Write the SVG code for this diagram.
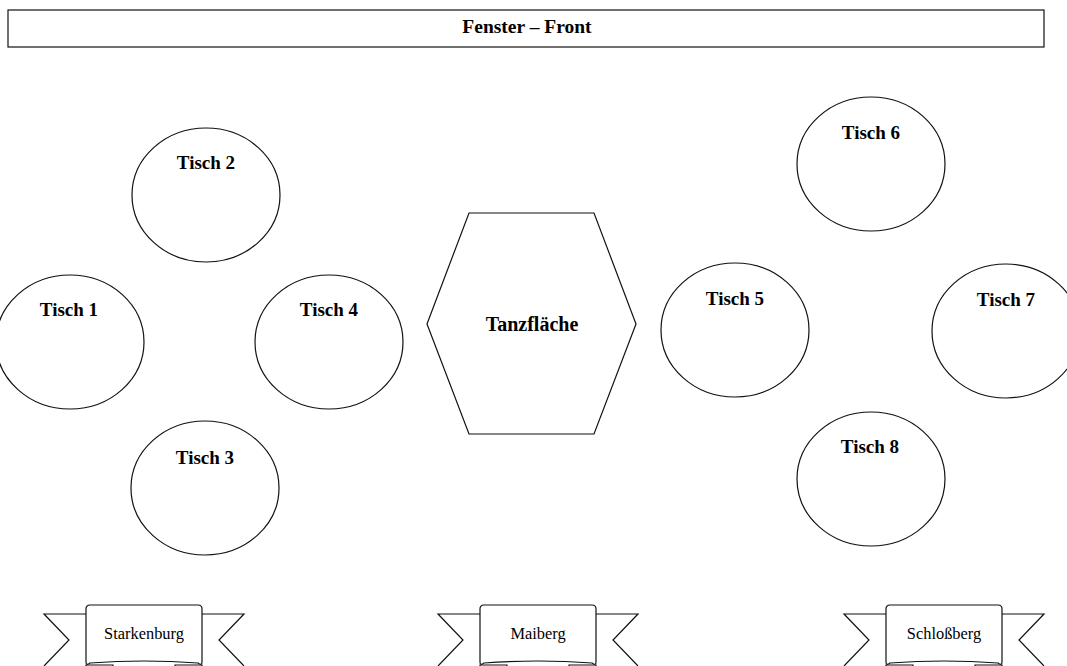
<svg xmlns="http://www.w3.org/2000/svg" width="1067" height="666" viewBox="0 0 1067 666">
<style>
.s{fill:#fff;stroke:#111;stroke-width:1.2}
.b{font-family:"Liberation Serif",serif;font-weight:bold;font-size:19px;fill:#000;text-anchor:middle}
.r{font-family:"Liberation Serif",serif;font-size:16.4px;fill:#000;text-anchor:middle}
</style>
<defs>
<g id="banner">
<path class="s" d="M0,9 H-42 L-17,35 L-42,61 M116,9 H158 L133,35 L158,61" fill="none"/>
<path class="s" d="M0,60 H27 V66 H0 Z M89,60 H116 V66 H89 Z"/>
<path class="s" d="M0,4 Q0,0 4,0 H112 Q116,0 116,4 V57 Q116,61 112,58 Q58,54 4,58 Q0,61 0,57 Z"/>
</g>
</defs>
<rect width="1067" height="666" fill="#fff"/>
<g id="title">
<rect class="s" x="8" y="10" width="1036" height="37"/>
<text class="b" x="527" y="33" style="font-size:19.5px">Fenster – Front</text>
</g>
<g id="tisch1"><ellipse class="s" cx="70" cy="342" rx="74" ry="67"/><text class="b" x="69" y="316">Tisch 1</text></g>
<g id="tisch2"><ellipse class="s" cx="206" cy="195" rx="74" ry="67"/><text class="b" x="206" y="169">Tisch 2</text></g>
<g id="tisch3"><ellipse class="s" cx="205" cy="488" rx="74" ry="67"/><text class="b" x="205" y="464">Tisch 3</text></g>
<g id="tisch4"><ellipse class="s" cx="329" cy="342" rx="74" ry="67"/><text class="b" x="329" y="316">Tisch 4</text></g>
<g id="tanzflaeche"><polygon class="s" points="469,213 594,213 636,324 594,434 469,434 427,324"/><text class="b" x="532" y="331" style="font-size:20px">Tanzfläche</text></g>
<g id="tisch5"><ellipse class="s" cx="735" cy="330" rx="74" ry="67"/><text class="b" x="735" y="305">Tisch 5</text></g>
<g id="tisch6"><ellipse class="s" cx="871" cy="164" rx="74" ry="67"/><text class="b" x="871" y="139">Tisch 6</text></g>
<g id="tisch7"><ellipse class="s" cx="1006" cy="331" rx="74" ry="67"/><text class="b" x="1006" y="306">Tisch 7</text></g>
<g id="tisch8"><ellipse class="s" cx="871" cy="479" rx="74" ry="67"/><text class="b" x="870" y="453">Tisch 8</text></g>
<g id="starkenburg"><use href="#banner" x="86" y="605"/><text class="r" x="144" y="639">Starkenburg</text></g>
<g id="maiberg"><use href="#banner" x="480" y="605"/><text class="r" x="538" y="639">Maiberg</text></g>
<g id="schlossberg"><use href="#banner" x="886" y="605"/><text class="r" x="944" y="639">Schloßberg</text></g>
<g id="connectors"/>
</svg>
